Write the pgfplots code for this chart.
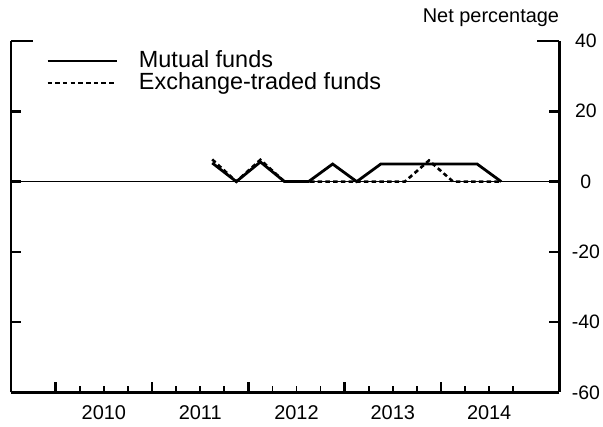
\documentclass[border=0pt]{standalone}
\usepackage{pgfplots}
\pgfplotsset{compat=1.18}
\usepackage{fontspec}
\setmainfont{Liberation Sans}
\begin{document}
\begin{tikzpicture}
\path[use as bounding box] (0,0) rectangle (603bp,427bp);
\begin{axis}[
  scale only axis,
  clip=false,
  width=548.3bp, height=351.5bp,
  at={(11bp,34.5bp)}, anchor=south west,
  xmin=2009.536, xmax=2015.228,
  ymin=-60, ymax=40,
  axis x line*=bottom, axis y line*=box,
  axis line style={-, line width=2.6bp},
  tick align=inside,
  xtick={2010,2011,2012,2013,2014},
  xticklabels={2010,2011,2012,2013,2014},
  minor xtick={2010.25,2010.5,2010.75,2011.25,2011.5,2011.75,2012.25,2012.5,2012.75,2013.25,2013.5,2013.75,2014.25,2014.5,2014.75},
  ytick={-60,-40,-20,0,20},
  extra y ticks={40},
  extra y tick style={major tick length=22bp},
  ytick pos=both,
  yticklabel pos=right,
  major tick length=10.5bp,
  minor tick length=6bp,
  major tick style={line width=2.6bp, black},
  minor tick style={line width=1.6bp, black},
  /pgf/number format/assume math mode=true,
  tick label style={font=\fontsize{20}{20}\selectfont},
  xticklabel style={xshift=48.15bp, yshift=-10bp},
  yticklabel={\makebox[46bp][c]{\fontsize{19.5}{19.5}\selectfont\pgfmathprintnumber{\tick}}},
  legend image code/.code={\draw[#1] (0bp,1bp) -- (69bp,1bp);},
  legend style={draw=none, fill=none, at={(rel axis cs:0.0638,0.972)}, anchor=north west,
    font=\fontsize{23.5}{23.5}\selectfont, inner sep=0pt, row sep=0pt, column sep=21bp,
    nodes={inner sep=0pt, text height=16.5bp, text depth=5.5bp}},
  legend cell align=left,
]
\addplot[forget plot, black, line width=1bp] coordinates {(2009.536,0) (2015.228,0)};
\addplot[black, line width=2.8bp, line join=miter] coordinates {
 (2011.625,5.3) (2011.875,0) (2012.125,5.6) (2012.375,0) (2012.625,0) (2012.875,5.0)
 (2013.125,0) (2013.375,5.0) (2013.625,5.0) (2013.875,5.0) (2014.125,5.0) (2014.375,5.0) (2014.625,0)};
\addlegendentry{Mutual funds}
\addplot[black, line width=2.6bp, dash pattern=on 4.5bp off 3.2bp] coordinates {
 (2011.625,6.3) (2011.875,0) (2012.125,6.2) (2012.375,0) (2012.625,0) (2012.875,0)
 (2013.125,0) (2013.375,0) (2013.625,0) (2013.875,6.0) (2014.125,0) (2014.375,0) (2014.625,0)};
\addlegendentry{Exchange-traded funds}
\node[anchor=base east, font=\fontsize{20}{20}\selectfont, inner sep=0pt] at (rel axis cs:1,1) [yshift=18bp] {Net percentage};
\end{axis}
\end{tikzpicture}
\end{document}
